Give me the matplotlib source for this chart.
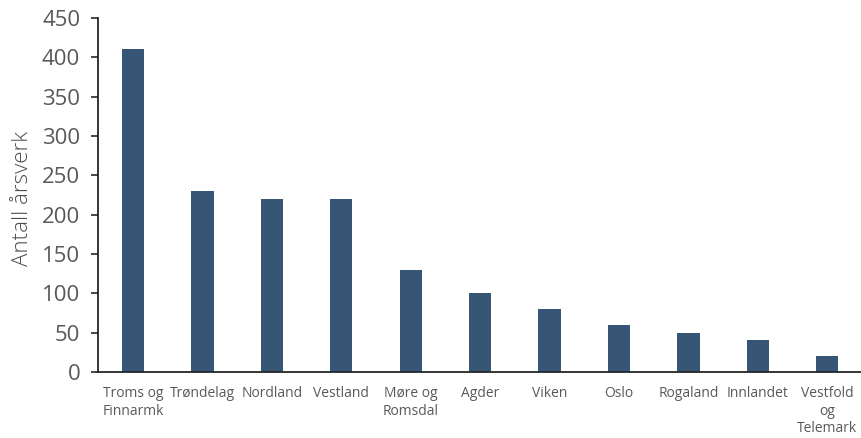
import matplotlib.pyplot as plt
import numpy as np

# data
fylker = ['Troms og\nFinnarmk', 'Trøndelag', 'Nordland', 'Vestland', 'Møre og\nRomsdal',
          'Agder', 'Viken', 'Oslo', 'Rogaland', 'Innlandet', 'Vestfold\nog\nTelemark']
aarsverk = [410, 230, 220, 220, 130, 100, 80, 60, 50, 40, 20]
yticks = [0, 50, 100, 150, 200, 250, 300, 350, 400, 450]

plt.rcParams['font.family'] = ['Open Sans', 'DejaVu Sans']

fig = plt.figure(figsize=(8.62, 4.38), dpi=100)
ax = fig.add_axes([0.114, 0.151, 0.886, 0.808])

x = np.arange(len(fylker))
ax.bar(x, aarsverk, width=0.32, color='#375574', zorder=2)

ax.set_xlim(-0.5, len(fylker) - 0.5)
ax.set_ylim(0, 450)
ax.set_yticks(yticks)
ax.set_yticklabels([str(v) for v in yticks], fontsize=16, color='#595959')
ax.set_xticks(x)
ax.set_xticklabels(fylker, fontsize=10, color='#595959', linespacing=1.25, va='top')
ax.tick_params(axis='x', length=0, pad=10)
ax.tick_params(axis='y', length=5, width=1.2, direction='out', color='#262626', pad=8)

for s in ['top', 'right']:
    ax.spines[s].set_visible(False)
for s in ['left', 'bottom']:
    ax.spines[s].set_color('#262626')
    ax.spines[s].set_linewidth(1.3)

ax.set_ylabel('Antall årsverk', fontsize=16, color='#4d4d4d', fontweight='light')
ax.yaxis.set_label_coords(-0.085, 0.49)

fig.savefig('out.png', dpi=100)
